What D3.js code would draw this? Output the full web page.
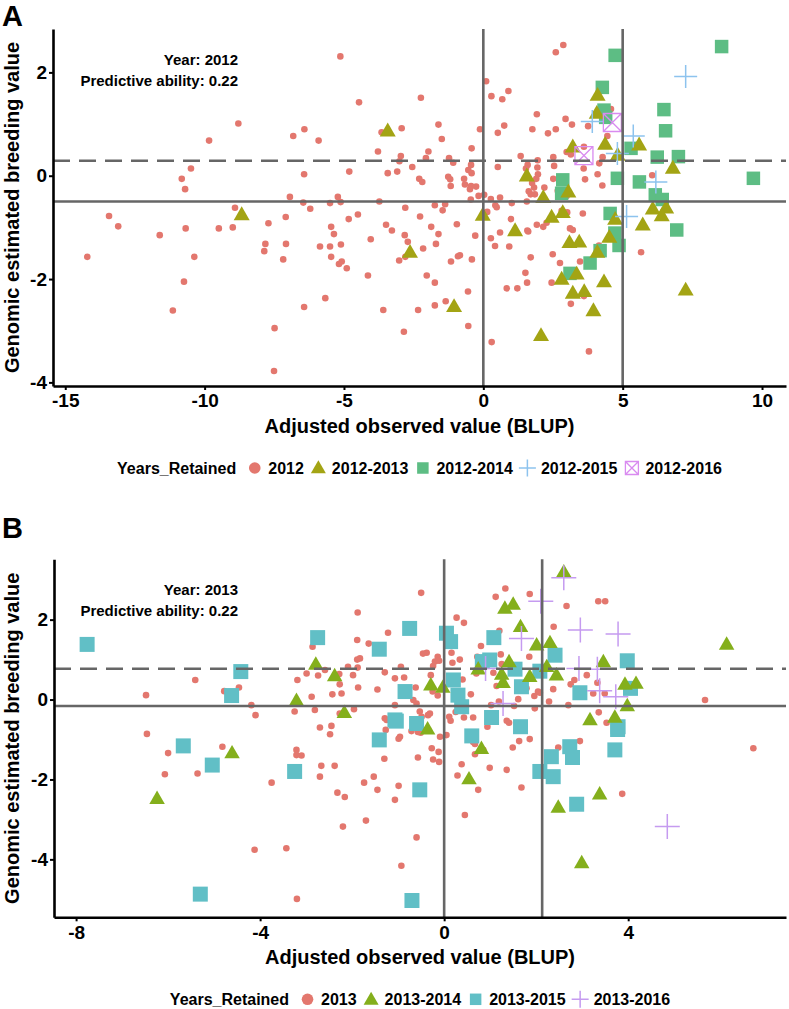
<!DOCTYPE html>
<html>
<head>
<meta charset="utf-8">
<script src="https://cdn.jsdelivr.net/npm/d3@7/dist/d3.min.js"></script>
<style>
  body { margin: 0; background: #fff; }
  svg { display: block; }
  text { font-family: "Liberation Sans", Arial, Helvetica, sans-serif; font-weight: bold; fill: #000; }
</style>
</head>
<body>
<svg id="fig" width="789" height="1009"></svg>
<script>

// ---- panel A (year 2012): [BLUP, GEBV] pairs ----
var levelsA = ["2012", "2012-2013", "2012-2014", "2012-2015", "2012-2016"];

var a2012 = [
  [-5.13,2.31],[-4.46,1.42],[-8.79,1.01],[-9.84,0.68],[-6.42,0.90],[-6.82,0.77],[-5.91,0.68],[-3.78,0.47],
  [-3.65,0.84],[-10.49,0.14],[-10.82,-0.06],[-10.70,-0.26],[-6.43,0.03],[-4.81,0.08],[-3.43,0.05],[-3.09,0.08],
  [-6.94,-0.41],[-6.46,-0.52],[-6.21,-0.64],[-5.50,-0.53],[-5.22,-0.41],[-5.12,-0.51],[-3.73,-0.50],[-8.91,-0.62],
  [-13.43,-0.78],[-13.10,-0.98],[-11.61,-1.15],[-10.68,-1.02],[-9.49,-1.02],[-8.99,-1.00],[-7.71,-0.92],[-7.09,-0.80],
  [-4.83,-0.84],[-4.50,-0.75],[-5.46,-0.99],[-5.36,-1.13],[-3.49,-0.95],[-3.28,-1.06],[-7.82,-1.32],[-7.08,-1.32],
  [-5.86,-1.37],[-5.50,-1.37],[-5.11,-1.33],[-4.04,-1.23],[-14.21,-1.57],[-10.37,-1.57],[-10.74,-2.05],[-11.14,-2.61],
  [-7.86,-1.46],[-7.18,-1.62],[-5.46,-1.57],[-5.18,-1.71],[-5.08,-1.66],[-4.90,-1.79],[-4.14,-1.93],[-3.02,-1.64],
  [-5.67,-2.37],[-6.43,-2.54],[-3.59,-2.60],[-7.49,-2.95],[-7.51,-3.78],[-2.24,1.51],[-2.93,0.92],[-1.61,0.99],
  [-1.49,0.71],[-0.12,0.90],[-2.96,0.38],[-1.97,0.47],[-2.06,0.34],[-1.23,0.34],[-1.08,0.25],[-0.42,0.53],
  [-3.01,0.28],[-2.55,0.17],[-2.30,-0.06],[-2.19,-0.12],[-1.26,-0.02],[-1.19,-0.07],[-1.17,-0.20],[-0.69,-0.06],
  [-0.66,-0.17],[-0.54,0.11],[-0.44,0.21],[-0.42,0.05],[-0.44,-0.20],[-0.26,-0.21],[-0.48,-0.26],[-0.17,-0.39],
  [-0.45,-0.46],[0.03,-0.37],[0.27,-0.45],[0.60,-0.42],[0.43,-0.57],[0.48,-0.61],[1.02,-0.53],[0.52,0.17],
  [0.29,1.54],[0.68,1.48],[0.90,1.64],[0.52,0.83],[0.75,0.97],[0.10,1.83],[-2.80,-0.62],[-2.27,-0.79],
  [-1.87,-0.99],[-1.74,-0.57],[-1.37,-0.55],[-1.46,-0.67],[-1.61,-1.13],[-0.95,-0.94],[-0.29,-1.16],[-2.82,-1.15],
  [-2.71,-1.28],[-2.80,-1.57],[-2.16,-1.41],[-1.70,-1.32],[-0.91,-1.56],[-0.84,-1.54],[-1.16,-1.66],[-0.41,-1.62],
  [-2.03,-1.93],[-1.74,-2.07],[-0.55,-2.24],[-1.35,-2.43],[-1.74,-2.51],[-2.34,-2.60],[0.84,-2.18],[1.22,-2.18],
  [0.27,-1.21],[0.42,-1.36],[0.93,-1.37],[0.60,-1.10],[0.99,-0.84],[0.14,-0.70],[-2.85,-3.02],[-0.54,-2.91],
  [0.30,-3.22],[1.61,-1.08],[1.51,-1.88],[1.57,-2.07],[1.70,-1.58],[2.49,-1.52],[2.75,-1.69],[2.45,-2.07],
  [3.47,-1.66],[3.14,-2.48],[3.61,-2.33],[3.79,-3.40],[4.15,-1.35],[5.66,-1.48],[2.87,2.53],[2.60,2.39],
  [1.92,1.19],[2.95,1.10],[3.18,0.99],[2.60,0.90],[2.32,0.82],[1.76,0.90],[4.58,1.29],[3.76,0.96],
  [4.45,0.77],[1.34,0.38],[1.95,0.30],[2.51,0.36],[1.94,0.16],[1.59,0.21],[1.53,0.14],[1.96,0.03],
  [1.90,-0.06],[1.75,-0.14],[1.82,-0.23],[1.63,-0.30],[1.70,-0.36],[1.85,-0.36],[2.19,-0.23],[2.51,-0.06],
  [2.54,0.19],[1.56,-0.50],[2.67,-0.29],[2.99,-0.39],[2.99,0.46],[3.14,0.41],[3.61,0.56],[3.60,0.14],
  [3.65,-0.07],[4.10,0.03],[4.16,0.24],[4.28,0.36],[4.27,-0.19],[6.06,0.01],[6.88,-1.05],[2.81,-0.68],
  [3.01,-0.71],[3.57,-0.73],[1.92,-0.95],[2.15,-0.99],[2.27,-0.91],[1.58,-1.06],[3.11,-1.02],[3.21,-1.05]
];

var a2012to2013 = [
  [-3.43,0.85],[-8.67,-0.77],[-2.63,-1.50],[-1.05,-2.55],[1.14,-1.08],[-0.02,-0.78],[2.07,-3.11],[2.81,-2.02],
  [3.35,-1.92],[3.09,-1.31],[3.44,-1.30],[3.21,-2.29],[3.62,-2.26],[3.95,-2.63],[4.33,-2.07],[4.09,-1.50],
  [4.52,-1.21],[7.26,-2.23],[4.10,1.54],[4.07,1.19],[1.56,-0.02],[2.15,-0.44],[3.05,-0.33],[3.21,0.54],
  [4.37,0.59],[4.82,0.38],[5.59,0.58],[6.80,0.13],[6.08,-0.66],[6.40,-0.79],[6.56,-0.64],[5.72,-0.97],
  [4.73,-0.86],[2.45,-0.82],[2.85,-0.73]
];

var a2012to2014 = [
  [3.11,-1.89],[3.83,-1.69],[4.19,-1.45],[4.72,-1.11],[4.87,-1.35],[6.94,-1.05],[4.73,2.33],[8.55,2.50],
  [4.27,1.71],[4.33,1.27],[4.39,1.13],[6.48,1.28],[6.54,0.87],[2.85,-0.08],[2.81,-0.34],[4.81,-0.05],
  [5.30,0.53],[5.60,-0.12],[6.24,0.36],[7.00,0.37],[9.69,-0.05],[6.17,-0.37],[6.42,-0.46],[4.55,-0.73]
];

var a2012to2015 = [[7.26,1.92],[3.91,1.05],[5.38,0.77],[4.81,0.43],[6.19,-0.12],[5.14,-0.79]];

var a2012to2016 = [[3.61,0.39],[4.63,1.03]];

// reference lines in panel A
var refA = { dashY: 0.29, solidY: -0.50, vx: [0, 5] };

// ---- panel B (year 2013) ----
var levelsB = ["2013", "2013-2014", "2013-2015", "2013-2016"];

var b2013 = [
  [-5.41,0.49],[-6.48,0.11],[-4.78,0.21],[-4.46,0.30],[-4.19,-0.14],[-4.10,-0.39],[-2.86,1.32],[-2.99,0.65],
  [-2.74,0.60],[-3.19,0.49],[-2.59,0.74],[-3.25,-0.30],[-2.88,0.07],[-2.81,-0.26],[-2.70,-0.70],[-2.45,-0.66],
  [-2.28,0.64],[-2.27,0.38],[-2.23,0.15],[-2.43,0.13],[-2.27,-0.35],[-1.96,-0.24],[-1.89,1.49],[-1.88,0.80],
  [-1.98,0.61],[-1.87,0.30],[-2.09,0.82],[-1.89,1.00],[-1.83,1.03],[-1.88,2.18],[-1.64,1.40],[-1.22,1.67],
  [-1.29,0.68],[-1.45,0.25],[-1.07,0.53],[-1.07,-0.14],[-1.29,-0.47],[-1.25,-0.51],[-5.01,-1.72],[-4.82,-1.18],
  [-3.75,-2.08],[-3.21,-1.26],[-3.21,-1.39],[-3.10,-1.40],[-2.67,-1.66],[-2.38,-1.66],[-2.70,-1.93],[-2.32,-2.33],
  [-2.16,-2.44],[-2.20,-3.18],[-1.70,-3.03],[-1.74,-2.08],[-1.53,-1.93],[-1.45,-2.26],[-1.30,-1.48],[-1.27,-0.76],
  [-0.96,-0.93],[-0.99,-0.98],[-1.07,-2.51],[-0.99,-2.16],[-0.57,-1.45],[-0.71,-0.79],[-0.57,-0.81],[-0.51,-0.83],
  [-0.67,-0.01],[-0.60,-0.10],[-0.53,-0.30],[-0.49,-0.43],[-0.35,-0.39],[-0.31,-0.35],[-0.62,0.30],[-0.27,-1.22],
  [-0.24,-1.50],[-0.12,-1.31],[-0.11,-1.56],[-0.09,-0.93],[0.05,-0.89],[0.11,-0.43],[0.14,-0.53],[0.10,1.36],
  [0.16,1.17],[-0.14,1.07],[-0.20,0.95],[-0.11,0.97],[-0.24,0.84],[-0.38,1.17],[-0.46,1.15],[-0.29,0.61],
  [-0.14,0.10],[-0.25,0.20],[0.18,0.92],[0.34,1.00],[0.40,0.50],[0.58,0.13],[0.25,-0.31],[0.43,-0.45],
  [0.63,-0.45],[0.63,-1.06],[0.67,-1.11],[0.85,-1.26],[0.67,-1.37],[0.38,-1.62],[0.29,-1.90],[0.74,-2.26],
  [0.45,-2.89],[0.99,-1.71],[1.36,-1.76],[1.68,-2.20],[1.49,-1.20],[1.63,-1.04],[1.86,-0.99],[1.36,-0.53],
  [1.41,-0.58],[0.94,-0.68],[1.02,-0.14],[1.19,-0.05],[1.52,-0.16],[1.61,0.01],[1.97,-0.22],[1.96,0.09],
  [2.04,0.20],[1.79,0.28],[1.14,0.34],[1.25,0.89],[1.07,0.67],[0.80,1.34],[1.20,1.72],[1.23,1.13],
  [0.72,1.07],[1.85,1.07],[1.86,2.64],[1.12,2.57],[2.28,-0.05],[2.38,1.82],[2.37,0.26],[2.08,0.17],
  [-0.50,2.67],[0.27,2.05],[0.43,1.92],[-2.48,-0.87],[-0.87,0.55],[-0.94,0.82],[1.33,2.78],[2.66,2.34],
  [3.35,2.46],[3.50,2.46],[0.70,0.65],[3.10,0.61],[2.83,0.49],[2.75,0.38],[3.33,0.42],[3.24,0.15],
  [3.49,0.15],[2.70,-0.14],[5.67,-0.01],[3.36,-0.32],[3.53,-0.58],[-0.60,-3.45],[-0.93,-4.16],[2.48,-1.20],
  [2.95,-1.04],[3.87,-2.36],[6.72,-1.22],[-6.46,-0.86],[-6.00,-1.34],[-6.07,-1.87],[-5.36,-1.85],[-4.12,-3.76],
  [-3.43,-3.72],[-3.20,-4.99]
];

var b2013to2014 = [
  [-2.79,0.86],[-3.21,-0.05],[-2.38,0.57],[-2.17,-0.35],[-4.61,-1.36],[-0.36,-0.76],[-0.29,0.34],[-0.03,0.28],
  [0.81,-1.25],[0.54,-2.01],[1.25,0.61],[1.28,0.40],[1.41,0.92],[0.74,0.74],[1.32,2.26],[1.50,2.36],
  [1.66,1.80],[2.01,1.34],[2.30,1.40],[2.23,0.80],[1.86,0.55],[2.44,0.59],[2.48,-2.72],[2.60,3.17],
  [3.46,0.92],[3.93,0.36],[4.17,0.38],[3.98,-0.18],[6.14,1.36],[3.17,-0.53],[3.71,-0.47],[3.38,-2.39],
  [2.99,-4.11],[-6.24,-2.50]
];

var b2013to2015 = [
  [-7.76,1.38],[-4.42,0.70],[-4.62,0.10],[-2.75,1.55],[-1.41,1.26],[-1.07,-0.51],[-5.04,-1.64],[-3.25,-1.80],
  [-1.41,-1.01],[-1.04,-0.54],[-0.53,-2.26],[-0.85,0.20],[-0.60,-0.60],[0.05,1.66],[0.14,1.45],[0.20,0.49],
  [0.30,0.11],[0.38,-0.18],[0.60,-0.91],[1.66,-0.68],[1.03,-0.45],[1.68,0.32],[1.54,0.76],[1.08,1.55],
  [0.83,0.95],[0.99,0.99],[2.41,1.11],[2.08,0.71],[2.33,-1.43],[2.08,-1.80],[2.37,-1.93],[-0.75,1.78],
  [3.98,0.97],[2.95,0.17],[4.05,0.28],[3.78,-0.68],[2.73,-1.18],[2.79,-1.45],[2.88,-2.62],[3.71,-1.26],
  [3.77,-0.75],[-0.70,-5.03],[-5.67,-1.16],[-5.30,-4.87]
];

var b2013to2016 = [
  [1.68,1.53],[0.90,0.78],[1.28,-0.10],[2.60,3.05],[2.10,2.46],[2.96,1.74],[3.78,1.64],[2.93,0.78],
  [3.33,0.76],[3.38,0.22],[3.73,0.07],[4.85,-3.18]
];

var refB = { dashY: 0.77, solidY: -0.16, vx: [0, 2.13] };

var ticksAx = [-15, -10, -5, 0, 5, 10], ticksAy = [-4, -2, 0, 2];
var ticksBx = [-8, -4, 0, 4],           ticksBy = [-4, -2, 0, 2];

var svg = d3.select("#fig");

// shape painters: each draws one mark at (cx, cy) with size s
function drawMark(g, shape, cx, cy, s, color) {
  if (shape === "circle") {
    g.append("circle").attr("cx", cx).attr("cy", cy).attr("r", s).attr("fill", color);
  } else if (shape === "triangle" || shape === "square") {
    var sym = shape === "triangle"
      ? d3.symbol().type(d3.symbolTriangle).size(s * s * Math.sqrt(3) / 4)
      : d3.symbol().type(d3.symbolSquare).size(s * s);
    g.append("path").attr("d", sym()).attr("transform", "translate(" + cx + "," + cy + ")").attr("fill", color);
  } else if (shape === "plus") {
    var h = s / 2;
    g.append("path").attr("d", "M" + (cx - h) + "," + cy + "H" + (cx + h) + "M" + cx + "," + (cy - h) + "V" + (cy + h))
      .attr("stroke", color).attr("stroke-width", 1.5).attr("fill", "none");
  } else if (shape === "boxcross") {
    var k = s / 2;
    g.append("path").attr("d", "M" + (cx - k) + "," + (cy - k) + "h" + s + "v" + s + "h" + (-s) + "Z" +
        "M" + (cx - k) + "," + (cy - k) + "L" + (cx + k) + "," + (cy + k) +
        "M" + (cx + k) + "," + (cy - k) + "L" + (cx - k) + "," + (cy + k))
      .attr("stroke", color).attr("stroke-width", 1.3).attr("fill", "none");
  }
}

function drawPanel(p) {
  var x = d3.scaleLinear().domain(p.xDomain).range([p.left, p.right]);
  var y = d3.scaleLinear().domain(p.yDomain).range([p.bottom, p.top]);
  var g = svg.append("g");

  // points, drawn series by series (p.drawOrder decides what lies on top)
  p.drawOrder.forEach(function (i) {
    var s = p.series[i], sg = g.append("g");
    s.data.forEach(function (d) { drawMark(sg, s.shape, x(d[0]), y(d[1]), s.size, s.color); });
  });

  // reference lines sit on top of the points
  var lines = g.append("g").attr("stroke", "#666").attr("stroke-width", 2.6);
  lines.append("line").attr("x1", p.left).attr("x2", p.right)
    .attr("y1", y(p.ref.dashY)).attr("y2", y(p.ref.dashY)).attr("stroke-dasharray", "17,9");
  lines.append("line").attr("x1", p.left).attr("x2", p.right)
    .attr("y1", y(p.ref.solidY)).attr("y2", y(p.ref.solidY));
  p.ref.vx.forEach(function (v) {
    lines.append("line").attr("x1", x(v)).attr("x2", x(v)).attr("y1", p.top).attr("y2", p.bottom);
  });

  // axes
  var fmt = function (d) { return String(d); };
  var xa = g.append("g").attr("transform", "translate(0," + p.bottom + ")")
    .call(d3.axisBottom(x).tickValues(p.xTicks).tickFormat(fmt).tickSize(4).tickSizeOuter(0).tickPadding(4));
  var ya = g.append("g").attr("transform", "translate(" + p.left + ",0)")
    .call(d3.axisLeft(y).tickValues(p.yTicks).tickFormat(fmt).tickSize(4).tickSizeOuter(0).tickPadding(2));
  [xa, ya].forEach(function (a) {
    a.select(".domain").attr("stroke", "#000").attr("stroke-width", 2.6);
    a.selectAll(".tick line").attr("stroke", "#000").attr("stroke-width", 2);
    a.selectAll(".tick text").attr("font-size", 19).attr("font-family", null).attr("fill", "#000");
  });

  // titles
  g.append("text").attr("x", (p.left + p.right) / 2).attr("y", p.bottom + 47)
    .attr("text-anchor", "middle").attr("font-size", 20).text("Adjusted observed value (BLUP)");
  g.append("text").attr("transform", "translate(19," + (p.top + p.bottom) / 2 + ") rotate(-90)")
    .attr("text-anchor", "middle").attr("font-size", 20).text("Genomic estimated breeding value");
  g.append("text").attr("x", 2).attr("y", p.labelY).attr("font-size", 29).text(p.label);

  // annotation
  g.append("text").attr("x", 238).attr("y", p.top + 36).attr("text-anchor", "end")
    .attr("font-size", 15).text("Year: " + p.year);
  g.append("text").attr("x", 238).attr("y", p.top + 57).attr("text-anchor", "end")
    .attr("font-size", 15).text("Predictive ability: 0.22");

  // legend in level order, laid out then centred under the panel
  var lg = g.append("g");
  var cy = p.bottom + 82, cx = 0;
  var t = lg.append("text").attr("x", cx).attr("y", cy + 5.5).attr("font-size", 16).text("Years_Retained");
  cx += t.node().getComputedTextLength() + 10;
  p.series.forEach(function (s) {
    var ks = { circle: 5.8, triangle: 15, square: 11.5, plus: 17, boxcross: 13 }[s.shape];
    drawMark(lg, s.shape, cx + 8.5, cy + (s.shape === "triangle" ? 1 : 0), ks, s.color);
    cx += 22;
    var lt = lg.append("text").attr("x", cx).attr("y", cy + 5.5).attr("font-size", 16).text(s.name);
    cx += lt.node().getComputedTextLength() + 6;
  });
  lg.attr("transform", "translate(" + ((p.left + p.right) / 2 - (cx - 6) / 2) + ",0)");
}

drawPanel({
  left: 53, right: 786, top: 29, bottom: 386,
  xDomain: [-15.44, 10.86], yDomain: [-4.07, 2.84],
  xTicks: ticksAx, yTicks: ticksAy, ref: refA,
  label: "A", labelY: 26, year: "2012",
  series: [
    { name: levelsA[0], data: a2012,       shape: "circle",   size: 3.3, color: "#E3776E" },
    { name: levelsA[1], data: a2012to2013, shape: "triangle", size: 16, color: "#A3A414" },
    { name: levelsA[2], data: a2012to2014, shape: "square",   size: 13.5, color: "#5DBD84" },
    { name: levelsA[3], data: a2012to2015, shape: "plus",     size: 23, color: "#8DC3EE" },
    { name: levelsA[4], data: a2012to2016, shape: "boxcross", size: 18, color: "#D98BF0" }
  ],
  drawOrder: [0, 2, 1, 3, 4]
});

drawPanel({
  left: 54, right: 786, top: 559.3, bottom: 917.3,
  xDomain: [-8.48, 7.43], yDomain: [-5.45, 3.51],
  xTicks: ticksBx, yTicks: ticksBy, ref: refB,
  label: "B", labelY: 538, year: "2013",
  series: [
    { name: levelsB[0], data: b2013,       shape: "circle",   size: 3.3, color: "#E3776E" },
    { name: levelsB[1], data: b2013to2014, shape: "triangle", size: 15.5, color: "#84AF1C" },
    { name: levelsB[2], data: b2013to2015, shape: "square",   size: 15, color: "#61BFC6" },
    { name: levelsB[3], data: b2013to2016, shape: "plus",     size: 25, color: "#C59BF0" }
  ],
  drawOrder: [0, 2, 1, 3]
});
</script>
</body>
</html>
